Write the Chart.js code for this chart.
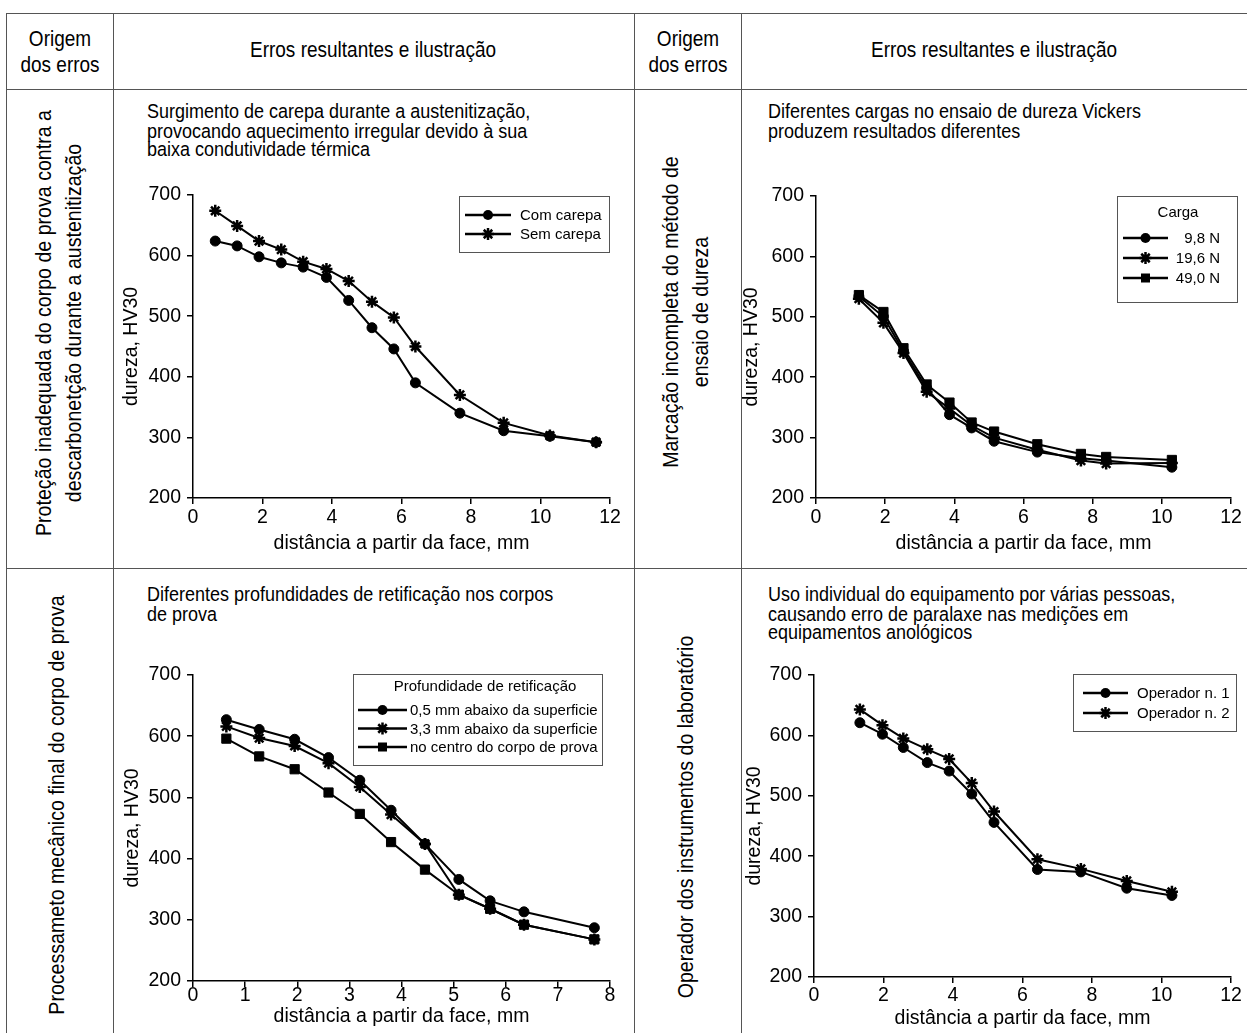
<!DOCTYPE html>
<html>
<head>
<meta charset="utf-8">
<script src="https://cdn.jsdelivr.net/npm/chart.js@4.4.0/dist/chart.umd.min.js"></script>
<style>
body{margin:0;background:#fff;width:1247px;height:1033px;overflow:hidden;position:relative;
  font-family:"Liberation Sans",Arial,sans-serif;color:#000}
.hl{position:absolute;height:1px;background:#555}
.vl{position:absolute;width:1px;background:#555}
.head{position:absolute;text-align:center;font-size:19px;line-height:22.6px;transform:translate(-50%,-50%) scaleY(1.15);white-space:nowrap}
.rot{position:absolute;text-align:center;font-size:19.6px;line-height:27px;white-space:nowrap;transform:translate(-50%,-50%) rotate(-90deg) scaleX(1.0) scaleY(1.1)}
.ttl{position:absolute;font-size:18px;line-height:16.5px;white-space:nowrap;transform:scaleY(1.15);transform-origin:0 0}
.cv{position:absolute}
</style>
</head>
<body>

<!-- grade da tabela -->
<div class="hl" style="left:6px;top:13px;width:1241px"></div>
<div class="hl" style="left:6px;top:89px;width:1241px"></div>
<div class="hl" style="left:6px;top:568px;width:1241px"></div>
<div class="vl" style="left:6px;top:13px;height:1020px"></div>
<div class="vl" style="left:113px;top:13px;height:1020px"></div>
<div class="vl" style="left:634px;top:13px;height:1020px"></div>
<div class="vl" style="left:741px;top:13px;height:1020px"></div>

<div class="head" style="left:60px;top:52px">Origem<br>dos erros</div>
<div class="head" style="left:373px;top:50px">Erros resultantes e ilustração</div>
<div class="head" style="left:688px;top:52px">Origem<br>dos erros</div>
<div class="head" style="left:994px;top:50px">Erros resultantes e ilustração</div>

<div class="rot" style="left:59px;top:323px">Proteção inadequada do corpo de prova contra a<br>descarbonetção durante a austenitização</div>
<div class="rot" style="left:686px;top:312px">Marcação incompleta do método de<br>ensaio de dureza</div>
<div class="rot" style="left:57px;top:805px">Processameto mecânico final do corpo de prova</div>
<div class="rot" style="left:686px;top:817px">Operador dos instrumentos do laboratório</div>

<div class="ttl" style="left:147px;top:102px">Surgimento de carepa durante a austenitização,<br>provocando aquecimento irregular devido à sua<br>baixa condutividade térmica</div>
<div class="ttl" style="left:768px;top:102px">Diferentes cargas no ensaio de dureza Vickers<br>produzem resultados diferentes</div>
<div class="ttl" style="left:147px;top:585px">Diferentes profundidades de retificação nos corpos<br>de prova</div>
<div class="ttl" style="left:768px;top:585px">Uso individual do equipamento por várias pessoas,<br>causando erro de paralaxe nas medições em<br>equipamentos anológicos</div>

<canvas id="g1" class="cv" style="left:114px;top:175px" width="516" height="390"></canvas>
<canvas id="g2" class="cv" style="left:736px;top:175px" width="510" height="390"></canvas>
<canvas id="g3" class="cv" style="left:114px;top:655px" width="516" height="378"></canvas>
<canvas id="g4" class="cv" style="left:736px;top:655px" width="510" height="378"></canvas>

<script>
// carepa
const c1X = [0.64, 1.27, 1.9, 2.54, 3.17, 3.84, 4.48, 5.15, 5.78, 6.4, 7.68, 8.94, 10.27, 11.6];
const comCarepa = [624, 616, 598, 588, 581, 564, 526, 481, 446, 390, 340, 311, 302, 292];
const semCarepa = [674, 649, 624, 610, 590, 578, 558, 524, 498, 450, 370, 324, 303, 292];

// cargas Vickers
const c2X = [1.24, 1.95, 2.53, 3.2, 3.86, 4.5, 5.15, 6.4, 7.66, 8.39, 10.29];
const carga98 = [534, 500, 443, 382, 338, 316, 294, 276, 266, 262, 251];
const carga196 = [530, 490, 440, 376, 348, 320, 300, 280, 262, 257, 258];
const carga490 = [536, 508, 448, 388, 358, 325, 310, 289, 273, 268, 263];

// profundidade de retificação
const c3X = [0.64, 1.27, 1.95, 2.6, 3.2, 3.8, 4.45, 5.1, 5.7, 6.35, 7.7];
const prof05 = [627, 611, 595, 565, 528, 479, 424, 366, 331, 313, 287];
const prof33 = [616, 597, 584, 556, 517, 472, 424, 341, 318, 292, 268];
const profCentro = [596, 567, 546, 508, 473, 427, 382, 341, 318, 292, 268];

// operadores
const c4X = [1.32, 1.97, 2.57, 3.26, 3.89, 4.54, 5.18, 6.43, 7.68, 9.0, 10.3];
const op1 = [621, 602, 580, 555, 541, 503, 456, 378, 374, 347, 335];
const op2 = [643, 617, 595, 577, 561, 521, 474, 395, 379, 359, 341];

const yTicks = [200, 700, 100];
const FONT = '"Liberation Sans",Arial,sans-serif';
Chart.defaults.font.family = FONT;
Chart.defaults.color = '#000';

function pts(xs, ys) {
    return xs.map((x, i) => ({x: x, y: ys[i]}));
}

function serie(label, xs, ys, style) {
    return {
        label: label,
        data: pts(xs, ys),
        borderColor: '#000',
        backgroundColor: '#000',
        borderWidth: 2,
        pointStyle: style,
        pointRadius: style == 'star' ? 6 : (style == 'rect' ? 6.5 : 5),
        pointBorderWidth: style == 'star' ? 2.5 : 1,
        tension: 0
    };
}

function marker(ctx, style, x, y) {
    ctx.fillStyle = '#000';
    ctx.strokeStyle = '#000';
    if (style == 'circle') {
        ctx.beginPath(); ctx.arc(x, y, 5, 0, Math.PI * 2); ctx.fill();
    } else if (style == 'rect') {
        ctx.fillRect(x - 4.5, y - 4.5, 9, 9);
    } else {
        ctx.lineWidth = 2.5;
        ctx.beginPath();
        for (let a = 0; a < 4; a++) {
            let t = a * Math.PI / 4;
            ctx.moveTo(x - 6 * Math.cos(t), y - 6 * Math.sin(t));
            ctx.lineTo(x + 6 * Math.cos(t), y + 6 * Math.sin(t));
        }
        ctx.stroke();
    }
}

// legenda em caixa dentro da área do gráfico
const boxLegend = {
    id: 'boxLegend',
    afterDraw(chart, args, o) {
        if (!o || !o.w) return;
        const ctx = chart.ctx, a = chart.chartArea;
        const x = Math.round(a.right + o.dx - o.w), y = Math.round(a.top + o.dy);
        ctx.save();
        ctx.fillStyle = '#fff';
        ctx.fillRect(x, y, o.w, o.h);
        ctx.strokeStyle = '#555';
        ctx.lineWidth = 1;
        ctx.strokeRect(x + 0.5, y + 0.5, o.w, o.h);
        ctx.font = '15px ' + FONT;
        ctx.textBaseline = 'middle';
        ctx.fillStyle = '#000';
        if (o.title) {
            ctx.textAlign = 'center';
            ctx.fillText(o.title, x + o.titleX, y + o.titleY);
        }
        chart.data.datasets.forEach((ds, i) => {
            const ry = y + o.rowY + i * o.rowH;
            ctx.strokeStyle = '#000';
            ctx.lineWidth = 2.5;
            ctx.beginPath();
            ctx.moveTo(x + o.l0, ry);
            ctx.lineTo(x + o.l1, ry);
            ctx.stroke();
            marker(ctx, ds.pointStyle, x + (o.l0 + o.l1) / 2, ry);
            ctx.fillStyle = '#000';
            ctx.textAlign = o.right ? 'right' : 'left';
            ctx.fillText(ds.label, x + o.tx, ry + 1);
        });
        ctx.restore();
    }
};

function escalas(xMax, xStep, yW, yPad, xH, xPad, tickPad) {
    return {
        x: {
            type: 'linear', min: 0, max: xMax,
            ticks: {stepSize: xStep, font: {size: 19.5}, padding: tickPad, maxRotation: 0},
            grid: {drawOnChartArea: false, color: '#000', tickLength: 6, lineWidth: 1.5},
            border: {color: '#000', width: 1.5},
            title: {display: true, text: 'distância a partir da face, mm', font: {size: 19.5}, padding: {top: 0, bottom: xPad}},
            afterFit(s) { s.height = xH; }
        },
        y: {
            min: yTicks[0], max: yTicks[1],
            ticks: {stepSize: yTicks[2], font: {size: 19.5}, padding: 6},
            grid: {drawOnChartArea: false, color: '#000', tickLength: 6, lineWidth: 1.5},
            border: {color: '#000', width: 1.5},
            title: {display: true, text: 'dureza, HV30', font: {size: 19.5}, padding: {top: yPad, bottom: 0}},
            afterFit(s) { s.width = yW; }
        }
    };
}

function grafico(id, datasets, scales, pad, legenda) {
    new Chart(document.getElementById(id).getContext('2d'), {
        type: 'line',
        data: {datasets: datasets},
        options: {
            responsive: false,
            animation: false,
            layout: {padding: pad},
            scales: scales,
            plugins: {legend: {display: false}, tooltip: {enabled: false}, boxLegend: legenda}
        },
        plugins: [boxLegend]
    });
}

grafico('g1', [
    serie('Com carepa', c1X, comCarepa, 'circle'),
    serie('Sem carepa', c1X, semCarepa, 'star')
], escalas(12, 2, 79, 6, 67, 10, 2), {top: 20, right: 20, bottom: 0, left: 0},
{dx: -1, dy: 1, w: 150, h: 56, rowY: 19, rowH: 19, l0: 6, l1: 52, tx: 61});

grafico('g2', [
    serie('9,8 N', c2X, carga98, 'circle'),
    serie('19,6 N', c2X, carga196, 'star'),
    serie('49,0 N', c2X, carga490, 'rect')
], escalas(12, 2, 80, 4, 67, 10, 2), {top: 21, right: 15, bottom: 0, left: 0},
{dx: 6, dy: 0, w: 120, h: 106, title: 'Carga', titleX: 61, titleY: 17, rowY: 42, rowH: 20, l0: 6, l1: 51, tx: 103, right: true});

grafico('g3', [
    serie('0,5 mm abaixo da superficie', c3X, prof05, 'circle'),
    serie('3,3 mm abaixo da superficie', c3X, prof33, 'star'),
    serie('no centro do corpo de prova', c3X, profCentro, 'rect')
], escalas(8, 1, 79, 7, 52, 5, -3), {top: 20, right: 20, bottom: 0, left: 0},
{dx: -8, dy: -1, w: 249, h: 91, title: 'Profundidade de retificação', titleX: 132, titleY: 13, rowY: 36, rowH: 18.5, l0: 5, l1: 54, tx: 57});

grafico('g4', [
    serie('Operador n. 1', c4X, op1, 'circle'),
    serie('Operador n. 2', c4X, op2, 'star')
], escalas(12, 2, 78, 7, 56, 3, 1), {top: 20, right: 15, bottom: 0, left: 0},
{dx: 5, dy: -1, w: 163, h: 57, rowY: 19, rowH: 20, l0: 10, l1: 55, tx: 64});
</script>
</body>
</html>
